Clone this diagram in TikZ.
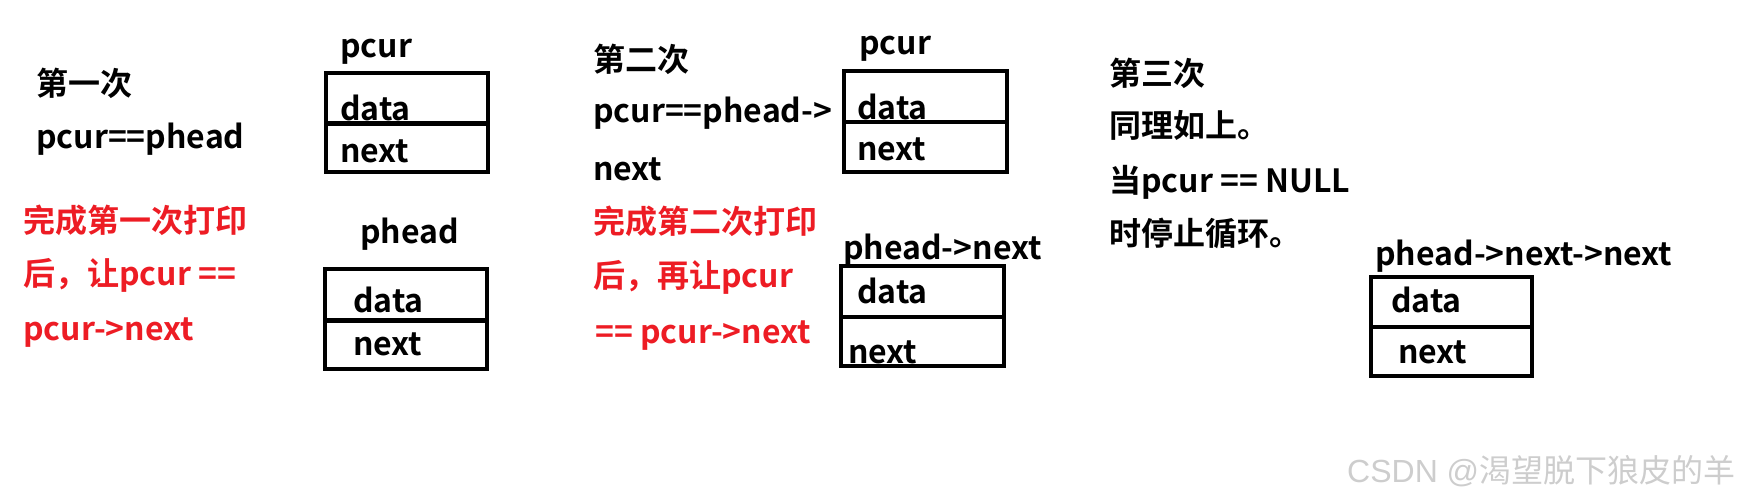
\documentclass[tikz,border=0pt]{standalone}
\usepackage{fontspec}
\setmainfont{Noto Sans CJK SC}[BoldFont={Noto Sans CJK SC Bold}]
\newfontfamily\wmlatin{Liberation Sans}
\newfontfamily\wmcjk{Noto Sans CJK SC}
\usetikzlibrary{positioning}
\definecolor{printred}{RGB}{237,28,36}
\definecolor{wmgray}{RGB}{205,205,205}

\begin{document}
\begin{tikzpicture}[
      x=1pt, y=-1pt,
      inner sep=0pt,
      txt/.style={anchor=base west, font=\bfseries\fontsize{32}{38}\selectfont},
      redtxt/.style={txt, text=printred},
      cell/.style={draw, line width=4.3pt, outer sep=0pt, anchor=north west}
    ]
    \useasboundingbox (0,0) rectangle (1742,503);

    % first round
    \node (r1) [txt] at (36,95) {第一次};
    \node (r1a) [txt] at (36,148) {pcur==phead};
    \node (r1b) [redtxt] at (23,232) {完成第一次打印};
    \node (r1c) [redtxt] at (23,285) {后，让pcur ==};
    \node (r1d) [redtxt] at (23,340) {pcur->next};

    \node (pcur1) [txt] at (340,57) {pcur};
    \node (d1) [cell, minimum width=162, minimum height=50.5] at (326,73) {};
    \node (n1) [cell, minimum width=162, minimum height=48.5, below=0pt of d1] {};
    \node (d1t) [txt] at (340,120) {data};
    \node (n1t) [txt] at (340,162) {next};

    \node (phead1) [txt] at (360,243) {phead};
    \node (d2) [cell, minimum width=162, minimum height=51.5] at (325,269) {};
    \node (n2) [cell, minimum width=162, minimum height=48.5, below=0pt of d2] {};
    \node (d2t) [txt] at (353,312) {data};
    \node (n2t) [txt] at (353,355) {next};

    % second round
    \node (r2) [txt] at (593,71) {第二次};
    \node (r2a) [txt] at (593,122) {pcur==phead->};
    \node (r2b) [txt] at (593,180) {next};
    \node (r2c) [redtxt] at (593,233) {完成第二次打印};
    \node (r2d) [redtxt] at (593,287) {后，再让pcur};
    \node (r2e) [redtxt] at (595,343) {== pcur->next};

    \node (pcur2) [txt] at (859,55) {pcur};
    \node (d3) [cell, minimum width=163, minimum height=51] at (844,71) {};
    \node (n3) [cell, minimum width=163, minimum height=50, below=0pt of d3] {};
    \node (d3t) [txt] at (857,119) {data};
    \node (n3t) [txt] at (857,160) {next};

    \node (phead2) [txt] at (843,259) {phead->next};
    \node (d4) [cell, minimum width=163, minimum height=51] at (841,266) {};
    \node (n4) [cell, minimum width=163, minimum height=49, below=0pt of d4] {};
    \node (d4t) [txt] at (857,303) {data};
    \node (n4t) [txt] at (848,363) {next};

    % third round
    \node (r3) [txt] at (1109,85) {第三次};
    \node (r3a) [txt] at (1109,137) {同理如上。};
    \node (r3b) [txt] at (1109,192) {当pcur == NULL};
    \node (r3c) [txt] at (1109,245) {时停止循环。};

    \node (phead3) [txt] at (1375,265) {phead->next->next};
    \node (d5) [cell, minimum width=161, minimum height=50] at (1371,277) {};
    \node (n5) [cell, minimum width=161, minimum height=49, below=0pt of d5] {};
    \node (d5t) [txt] at (1391,312) {data};
    \node (n5t) [txt] at (1398,363) {next};

    \node (wm) [anchor=base west, text=wmgray, font=\fontsize{32}{36}\selectfont]
      at (1347,482) {\wmlatin CSDN @\wmcjk 渴望脱下狼皮的羊};
  \end{tikzpicture}
\end{document}
